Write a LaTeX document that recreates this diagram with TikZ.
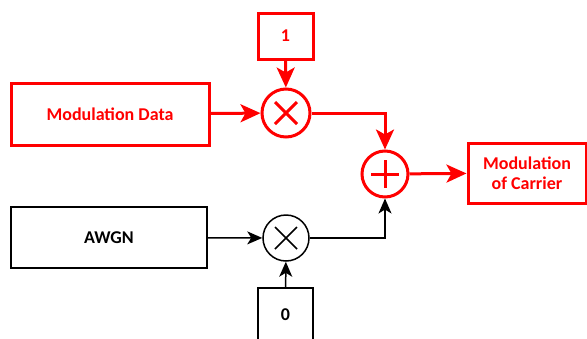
\documentclass[tikz,border=0pt]{standalone}
\usepackage{fontspec}
\setmainfont{Carlito}
\usetikzlibrary{arrows.meta,calc}
\definecolor{rd}{RGB}{255,0,0}
\tikzset{
  redbox/.style={draw=rd,line width=3pt,text=rd,font=\fontsize{18}{20}\selectfont\bfseries,align=center,inner sep=0pt},
  blkbox/.style={draw=black,line width=1.5pt,text=black,font=\fontsize{18}{20}\selectfont\bfseries,align=center,inner sep=0pt},
  redarr/.style={draw=rd,line width=3pt,-{Stealth[length=20pt,width=18pt,inset=5pt]}},
  blkarr/.style={draw=black,line width=1.5pt,-{Stealth[length=15pt,width=13pt,inset=4pt]}},
}
\begin{document}
\begin{tikzpicture}[x=1pt,y=-1pt]
\useasboundingbox (0,0) rectangle (587,338);
% red part
\node[redbox,minimum width=55pt,minimum height=46pt] (one) at (285.5,36) {1};
\node[redbox,minimum width=198pt,minimum height=62pt] (md) at (110,114) {Modulation Data};
\node[draw=rd,line width=3pt,circle,minimum size=48pt,inner sep=0pt] (m1) at (286,113) {};
\draw[rd,line width=3pt] ($(m1.center)+(-11,-11)$) -- ($(m1.center)+(11,11)$)
  ($(m1.center)+(-11,11)$) -- ($(m1.center)+(11,-11)$);
\node[draw=rd,line width=3pt,circle,minimum size=46pt,inner sep=0pt] (sum) at (385,174) {};
\draw[rd,line width=3pt] ($(sum.center)+(-14,0)$) -- ($(sum.center)+(14,0)$)
  ($(sum.center)+(0,-14)$) -- ($(sum.center)+(0,14)$);
\node[redbox,minimum width=118pt,minimum height=60pt] (car) at (527,173) {Modulation\\of Carrier};
\draw[redarr] (one) -- (m1);
\draw[redarr] (md) -- (m1);
\draw[redarr] (m1.east) -| (sum.north);
\draw[redarr] (sum) -- (car);
% black part
\node[blkbox,minimum width=196pt,minimum height=61pt] (awgn) at (109,237.5) {AWGN};
\node[draw=black,line width=1.5pt,circle,minimum size=46pt,inner sep=0pt] (m2) at (286,238) {};
\draw[black,line width=1.5pt] ($(m2.center)+(-11,-11)$) -- ($(m2.center)+(11,11)$)
  ($(m2.center)+(-11,11)$) -- ($(m2.center)+(11,-11)$);
\node[blkbox,minimum width=55pt,minimum height=54pt] (zero) at (285.5,315) {0};
\draw[blkarr] (awgn) -- (m2);
\draw[blkarr] (zero) -- (m2);
\draw[blkarr] (m2.east) -| (sum.south);
\end{tikzpicture}
\end{document}
